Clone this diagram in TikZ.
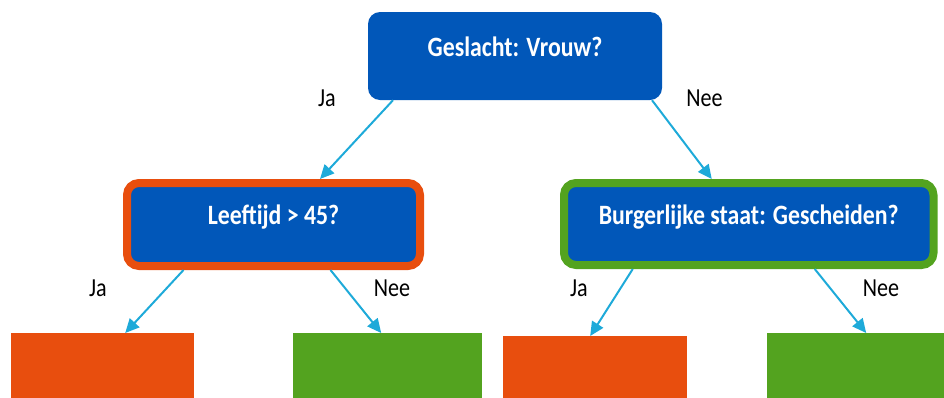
\documentclass[tikz,border=0pt]{standalone}
\usepackage{fontspec}
\setmainfont{Carlito}[FakeStretch=0.85]
\usetikzlibrary{arrows.meta}
\definecolor{nodeblue}{HTML}{0157B9}
\definecolor{leaforange}{HTML}{E84E0E}
\definecolor{leafgreen}{HTML}{53A31F}
\definecolor{arrowblue}{HTML}{1EAAD9}
\tikzset{
	question/.style={rounded corners=12pt, fill=nodeblue, text=white, inner sep=0pt,
		font=\bfseries\fontsize{28}{30}\selectfont},
	leaf/.style={minimum width=183pt, minimum height=90pt, anchor=north west, inner sep=0pt},
	branch/.style={draw=arrowblue, line width=2pt, -{Triangle[length=14pt,width=13pt]}},
	answer/.style={font=\fontsize{26}{28}\selectfont, anchor=base},
}
\begin{document}
\begin{tikzpicture}[x=1pt,y=-1pt]
	\clip (0,0) rectangle (944,397);
	% vragen
	\node[question, minimum width=294pt, text height=44pt, text depth=44pt] (root) at (515,56) {Geslacht: Vrouw?};
	\node[question, draw=leaforange, line width=8pt, minimum width=293pt, text height=41.5pt, text depth=41.5pt] (age) at (273.5,224.5) {Leeftijd > 45?};
	\node[question, draw=leafgreen, line width=8pt, minimum width=369.5pt, text height=41pt, text depth=41pt] (marital) at (748.75,224) {Burgerlijke staat: Gescheiden?};
	% bladeren
	\node[leaf, fill=leaforange] (ageyes) at (11,333) {};
	\node[leaf, fill=leafgreen, minimum width=189pt] (ageno) at (293,333) {};
	\node[leaf, fill=leaforange, minimum width=184pt] (divyes) at (503,336) {};
	\node[leaf, fill=leafgreen] (divno) at (767,333) {};
	% takken
	\draw[branch] ([xshift=-122pt]root.south) -- ([xshift=46.5pt]age.north);
	\draw[branch] ([xshift=137pt]root.south) -- ([xshift=-37pt]marital.north);
	\draw[branch] ([xshift=-90pt]age.south) -- ([xshift=22.5pt]ageyes.north);
	\draw[branch] ([xshift=57pt]age.south) -- ([xshift=-6.5pt]ageno.north);
	\draw[branch] ([xshift=-116pt]marital.south) -- ([xshift=-5pt]divyes.north);
	\draw[branch] ([xshift=66pt]marital.south) -- ([xshift=7.5pt]divno.north);
	% antwoorden
	\node[answer] (rootyes) at (327,106) {Ja};
	\node[answer] (rootno) at (704.5,106) {Nee};
	\node[answer] (ageyeslbl) at (98,296) {Ja};
	\node[answer] (agenolbl) at (392,296) {Nee};
	\node[answer] (divyeslbl) at (579,296) {Ja};
	\node[answer] (divnolbl) at (881,296) {Nee};
\end{tikzpicture}
\end{document}
